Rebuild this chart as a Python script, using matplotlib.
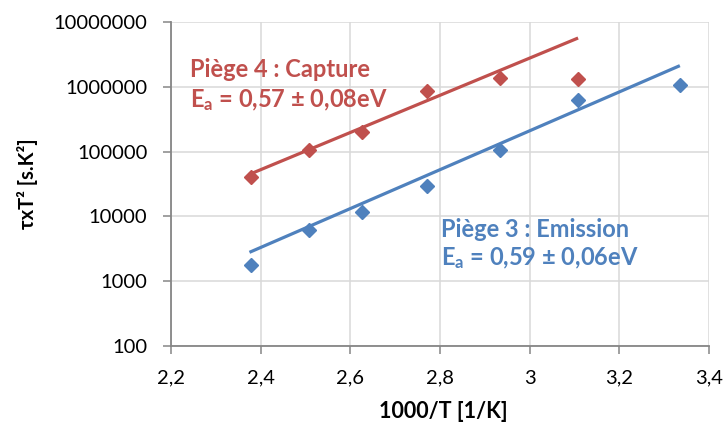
import matplotlib
matplotlib.use("Agg")
import matplotlib.pyplot as plt
from matplotlib.ticker import FixedLocator, FixedFormatter, NullLocator

plt.rcParams['font.family'] = ['Lato', 'DejaVu Sans']
plt.rcParams['mathtext.fontset'] = 'custom'
plt.rcParams['mathtext.rm'] = 'Lato'
plt.rcParams['mathtext.bf'] = 'Lato:bold'

# 1000/T values (1/K)
inv_T = [2.378, 2.508, 2.627, 2.772, 2.934, 3.107, 3.335]

# Piège 4 : Capture (6 points)
tau_capture = [40500, 107000, 203000, 871000, 1380000, 1330000]
# Piège 3 : Emission (7 points)
tau_emission = [1760, 6250, 11560, 29850, 107000, 619000, 1050000]

# trend lines as drawn (end points)
trend_capture_x = [2.373, 3.108]
trend_capture_y = [44000, 5660000]
trend_emission_x = [2.375, 3.335]
trend_emission_y = [2790, 2120000]

x_ticks = [2.2, 2.4, 2.6, 2.8, 3.0, 3.2, 3.4]
x_labels = ["2,2", "2,4", "2,6", "2,8", "3", "3,2", "3,4"]
y_ticks = [100, 1000, 10000, 100000, 1000000, 10000000]
y_labels = ["100", "1000", "10000", "100000", "1000000", "10000000"]

red = "#C0504D"
blue = "#4F81BD"
axis_gray = "#868686"
grid_gray = "#D9D9D9"

fig = plt.figure(figsize=(7.28, 4.28), dpi=100)
ax = fig.add_axes([171 / 728, 1 - 346 / 428, 538 / 728, 324 / 428])

ax.set_yscale("log")
ax.set_xlim(2.2, 3.4)
ax.set_ylim(100, 1e7)

# grid
ax.set_axisbelow(True)
ax.grid(True, which="major", color=grid_gray, lw=1.1)
ax.yaxis.set_minor_locator(NullLocator())

# trend lines
ax.plot(trend_capture_x, trend_capture_y, color=red, lw=2.3, solid_capstyle="butt", zorder=2)
ax.plot(trend_emission_x, trend_emission_y, color=blue, lw=2.3, solid_capstyle="butt", zorder=2)

# data points
ax.plot(inv_T[:len(tau_capture)], tau_capture, ls="none", marker="D", ms=7.5,
        color=red, mec=red, zorder=3)
ax.plot(inv_T, tau_emission, ls="none", marker="D", ms=7.5,
        color=blue, mec=blue, zorder=3)

# ticks
ax.xaxis.set_major_locator(FixedLocator(x_ticks))
ax.xaxis.set_major_formatter(FixedFormatter(x_labels))
ax.yaxis.set_major_locator(FixedLocator(y_ticks))
ax.yaxis.set_major_formatter(FixedFormatter(y_labels))
ax.tick_params(axis="both", which="major", direction="out", length=6, width=1.1,
               color=axis_gray, labelsize=14.5, labelcolor="#000000", pad=11)

for side in ["top", "right"]:
    ax.spines[side].set_visible(False)
for side in ["left", "bottom"]:
    ax.spines[side].set_color(axis_gray)
    ax.spines[side].set_linewidth(1.3)

# annotations
note_size = 17
ax.text(0.035, 0.830, "Piège 4 : Capture", transform=ax.transAxes, color=red,
        fontsize=note_size, fontweight="bold", ha="left", va="baseline")
ax.text(0.035, 0.738, r"$\mathbf{E_a}$ = 0,57 ± 0,08eV", transform=ax.transAxes, color=red,
        fontsize=note_size, fontweight="bold", ha="left", va="baseline")
ax.text(0.502, 0.336, "Piège 3 : Emission", transform=ax.transAxes, color=blue,
        fontsize=note_size, fontweight="bold", ha="left", va="baseline")
ax.text(0.502, 0.250, r"$\mathbf{E_a}$ = 0,59 ± 0,06eV", transform=ax.transAxes, color=blue,
        fontsize=note_size, fontweight="bold", ha="left", va="baseline")

# axis titles
fig.text(443 / 728, 1 - 411 / 428, "1000/T [1/K]", ha="center", va="center",
         fontsize=15.5, fontweight="bold")
fig.text(27 / 728, 1 - 184 / 428, "τxT² [s.K²]", ha="center", va="center",
         rotation=90, fontsize=14.5, fontweight="bold")

fig.savefig("out.png", dpi=100, facecolor="white")
